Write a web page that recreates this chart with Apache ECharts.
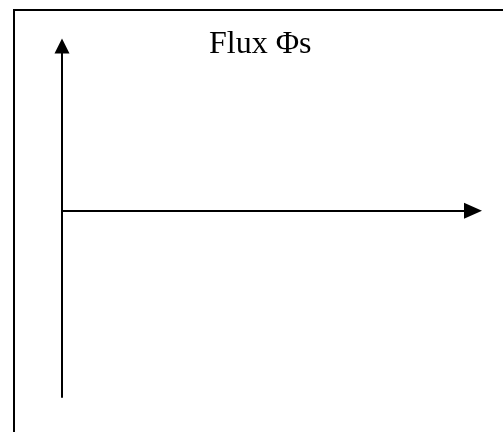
<!DOCTYPE html>
<html>
<head>
<meta charset="utf-8">
<script src="https://cdn.jsdelivr.net/npm/echarts@6/dist/echarts.min.js"></script>
<style>
html,body{margin:0;padding:0;background:#fff;}
#chart{width:503px;height:432px;}
</style>
</head>
<body>
<div id="chart"></div>
<script>
// Axis ranges (schematic diagram: no plotted values)
var xRange = [0, 1];
var yRange = [-1.13, 1];
var titleText = 'Flux \u03A6s';
var seriesValues = [];

var chart = echarts.init(document.getElementById('chart'), null, {renderer: 'canvas'});
var axisLineStyle = {color: '#000', width: 2};
chart.setOption({
  animation: false,
  backgroundColor: '#fff',
  title: {
    text: titleText,
    left: 209,
    top: 29,
    padding: 0,
    textStyle: {fontFamily: 'Liberation Serif', fontSize: 32, fontWeight: 'normal', color: '#000'}
  },
  graphic: [{
    type: 'rect',
    shape: {x: 14, y: 10, width: 600, height: 600},
    style: {fill: 'none', stroke: '#000', lineWidth: 2}
  }],
  grid: {left: 62, right: 30, top: 46, bottom: 35, show: false},
  xAxis: {
    type: 'value', min: xRange[0], max: xRange[1],
    axisLine: {show: true, onZero: true, lineStyle: axisLineStyle, symbol: ['none', 'triangle'], symbolSize: [16, 18]},
    axisTick: {show: false}, axisLabel: {show: false}, splitLine: {show: false}
  },
  yAxis: {
    type: 'value', min: yRange[0], max: yRange[1],
    axisLine: {show: true, onZero: false, lineStyle: axisLineStyle, symbol: ['none', 'triangle'], symbolSize: [15, 15]},
    axisTick: {show: false}, axisLabel: {show: false}, splitLine: {show: false}
  },
  series: [{type: 'line', data: seriesValues, showSymbol: false}]
});
</script>
</body>
</html>
